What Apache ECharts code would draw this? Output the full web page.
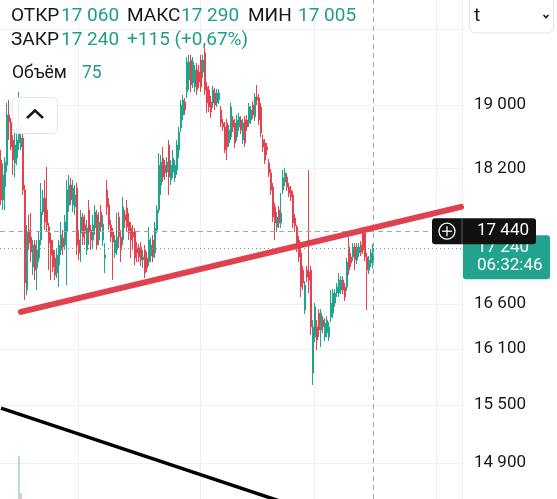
<!DOCTYPE html>
<html>
<head>
<meta charset="utf-8">
<script src="https://cdn.jsdelivr.net/npm/echarts@6/dist/echarts.min.js"></script>
<style>
  html, body { margin: 0; padding: 0; background: #fff; }
  #chart { width: 557px; height: 499px; }
</style>
</head>
<body>
<div id="chart"></div>
<script>
// candles (one every ~2px)
const opens = [
  18303, 17813, 17972, 18241, 18872, 18782, 18554, 18266, 18328, 18516,
  18466, 18579, 17935, 16757, 17454, 17371, 17021, 17277, 17009, 17125,
  17336, 17669, 17837, 17693, 17490, 17336, 17219, 17125, 16951, 17044,
  17219, 17360, 17277, 17430, 17753, 17996, 17753, 17729, 17960, 17336,
  17418, 17609, 17513, 17219, 17693, 17454, 17336, 17478, 17633, 17336,
  17669, 17336, 17125, 17935, 17753, 17513, 17430, 17184, 17219, 17609,
  17371, 17336, 17633, 17717, 17549, 17478, 17430, 17430, 17242, 17242,
  17254, 17102, 17219, 17125, 17079, 17149, 17336, 17184, 17454, 17693,
  17996, 18328, 18241, 18155, 18491, 18057, 18155, 18082, 18180, 18428,
  18706, 18872, 19039, 19169, 19325, 19589, 19286, 19234, 19457, 19430,
  19589, 19430, 19683, 19234, 19195, 19039, 19026, 19156, 19026, 19065,
  18936, 18770, 18719, 18770, 18516, 18592, 18808, 18770, 18592, 18719,
  18808, 18554, 18808, 18808, 18770, 18808, 19000, 18846, 19104, 19091,
  18975, 18554, 18516, 18466, 18266, 18143, 17972, 17729, 17490, 17693,
  17537, 17935, 18033, 18094, 17972, 17935, 17874, 17597, 17490, 17336,
  17184, 16986, 16531, 16986, 16963, 16986, 15839, 16231, 16342, 16497,
  16308, 16419, 16231, 16275, 16231, 16453, 16497, 16610, 16723, 16723,
  16757, 16871, 16791, 16791, 17254, 17137, 17137, 17254, 17102, 17184,
  17277, 17454, 17418, 17137, 16986, 17067, 17060
];
const closes = [
  17813, 18118, 18278, 18872, 18782, 18466, 18303, 18491, 18554, 18642,
  18579, 17935, 16837, 17430, 17300, 17196, 17277, 16986, 17219, 17336,
  17669, 17837, 17549, 17513, 17300, 17160, 17021, 16928, 17160, 17277,
  17395, 17254, 17549, 17935, 17996, 17813, 17960, 17874, 17277, 17184,
  17609, 17371, 17418, 17478, 17430, 17336, 17513, 17669, 17277, 17549,
  17490, 17525, 17160, 17729, 17513, 17371, 17312, 17336, 17371, 17371,
  17219, 17729, 17573, 17490, 17418, 17336, 17371, 17125, 17184, 17137,
  17102, 17137, 16951, 17009, 17336, 17277, 17137, 17478, 17693, 18241,
  18278, 18094, 18143, 18278, 18094, 18241, 18328, 18241, 18491, 18655,
  19000, 19065, 18936, 19562, 19562, 19260, 19562, 19457, 19195, 19299,
  19234, 19589, 19195, 19026, 18975, 18910, 19195, 19000, 19156, 19156,
  18770, 18719, 18428, 18466, 18680, 18975, 18719, 18516, 18808, 18846,
  18680, 18770, 18516, 18719, 18975, 18936, 18872, 19104, 19065, 18808,
  18642, 18466, 18303, 18428, 18143, 17935, 17609, 17537, 17609, 17537,
  17657, 18082, 18143, 17972, 17899, 17850, 17537, 17502, 17254, 17137,
  16791, 16837, 16814, 16905, 16871, 16342, 16342, 16565, 16198, 16308,
  16497, 16342, 16386, 16419, 16342, 16610, 16723, 16723, 16791, 16871,
  16871, 16757, 16678, 17079, 16986, 17067, 17254, 17102, 17254, 17254,
  17196, 17219, 17137, 16986, 17102, 17184, 17240
];
const lows = [
  17753, 17693, 17693, 18155, 18554, 18428, 18118, 18094, 18241, 18428,
  18428, 17874, 16644, 16700, 17219, 17079, 16928, 16871, 16757, 17079,
  17277, 17633, 17454, 17430, 16986, 16871, 16963, 16871, 16894, 16791,
  17160, 17160, 17219, 16814, 17669, 17753, 17669, 17633, 17160, 17102,
  17079, 17277, 17277, 17160, 17277, 17219, 17242, 17395, 17219, 17277,
  17430, 17265, 16951, 17633, 17454, 17312, 16871, 17125, 17160, 17242,
  17079, 17277, 17478, 17430, 17336, 17125, 17219, 17044, 17079, 17079,
  17032, 17009, 16894, 16963, 17032, 17079, 17079, 17125, 17418, 17657,
  17874, 18033, 18057, 18094, 17874, 17996, 18082, 18033, 18118, 18328,
  18655, 18808, 18872, 19091, 19195, 19169, 19221, 19169, 19130, 19221,
  19169, 19352, 19130, 18898, 18910, 18834, 18962, 18936, 18975, 19013,
  18719, 18668, 18391, 18303, 18466, 18554, 18655, 18453, 18541, 18668,
  18630, 18503, 18466, 18668, 18719, 18757, 18821, 18795, 19000, 18744,
  18592, 18403, 18254, 18366, 18094, 17874, 17549, 17336, 17430, 17478,
  17478, 17887, 17984, 17923, 17850, 17801, 17478, 17430, 17196, 17079,
  16678, 16757, 16486, 16848, 16723, 16253, 15711, 16176, 16088, 16231,
  16121, 16275, 16187, 16231, 16187, 16397, 16441, 16565, 16678, 16678,
  16711, 16711, 16633, 16746, 16928, 17021, 17090, 16986, 17056, 17137,
  17149, 17172, 17090, 16531, 16940, 17021, 17005
];
const highs = [
  18428, 18266, 18341, 19026, 19065, 18834, 18617, 18680, 18706, 19169,
  18744, 18642, 17996, 17513, 17633, 17657, 17336, 17336, 17336, 17430,
  18020, 17935, 18057, 18217, 17537, 17418, 17336, 17219, 17242, 17336,
  17549, 17454, 17633, 18057, 18118, 18082, 18057, 17996, 18020, 17454,
  17693, 17657, 17633, 17573, 17813, 17513, 17633, 17753, 17693, 17669,
  17753, 17633, 17300, 18057, 17837, 17573, 17478, 17395, 17657, 17669,
  17454, 17850, 17693, 17813, 17657, 17549, 17513, 17478, 17312, 17289,
  17312, 17219, 17277, 17196, 17490, 17360, 17395, 17549, 17753, 18391,
  18366, 18466, 18303, 18341, 18554, 18303, 18428, 18303, 18554, 18718,
  19065, 19130, 19091, 19629, 19656, 19656, 19629, 19522, 19549, 19522,
  19656, 19656, 19763, 19299, 19247, 19117, 19247, 19221, 19208, 19208,
  18988, 18821, 18782, 18821, 18744, 19026, 18859, 18821, 18872, 18898,
  18859, 18821, 18859, 18872, 19026, 18988, 19052, 19156, 19260, 19143,
  19026, 18617, 18567, 18516, 18316, 18192, 18020, 17777, 17669, 17741,
  17899, 18180, 18204, 18143, 18020, 17984, 17923, 17645, 17513, 17383,
  17231, 17032, 16860, 17032, 18180, 17032, 16419, 16610, 16419, 16542,
  16542, 16464, 16441, 16464, 16397, 16757, 16768, 16768, 16837, 16951,
  16917, 16917, 16837, 17125, 17371, 17184, 17300, 17300, 17300, 17300,
  17324, 17490, 17466, 17184, 17149, 17231, 17290
];

// volume bars that peek in at the bottom left: [slot, volume]
const volumeUp = [[9, 43]];
const volumeDown = [[10, 6]];

const slotCount = 231;              // incl. empty space right of last candle
const categories = Array.from({ length: slotCount }, (_, i) => String(i));
const labelTicks = [14900, 15500, 16100, 16600, 18200, 19000];
const gridTicks = [14900, 15500, 16100, 16600, 18200, 19000, 20000];
const timeGridSlots = [39, 100, 157, 218];
const redTrend = [[10, 16510], [230, 17730]];
const blackTrend = [[0, 15467], [150, 14451]];
const crossPrice = 17440;
const lastPrice = 17240;
const lastSlot = 186;

const UP = '#22a38e';
const DOWN = '#e2434f';
const TEXT = '#131722';
const VAL = '#1f9e8a';
const FONT = 'Roboto, "Noto Sans", sans-serif';

function fmtPrice(v) {
  return String(Math.round(v)).replace(/\B(?=(\d{3})+(?!\d))/g, ' ');
}

const candles = opens.map((o, i) => [o, closes[i], lows[i], highs[i]]);

const chart = echarts.init(document.getElementById('chart'), null, { renderer: 'canvas' });

chart.setOption({
  animation: false,
  backgroundColor: '#ffffff',
  grid: { left: 0, right: 95, top: 0, bottom: 0 },
  xAxis: {
    type: 'category',
    data: categories,
    boundaryGap: true,
    axisLine: { show: false },
    axisTick: { show: false },
    axisLabel: { show: false },
    splitLine: {
      show: true,
      interval: (idx) => timeGridSlots.includes(idx),
      lineStyle: { color: '#eff1f5', width: 1 }
    }
  },
  yAxis: [
    {
      type: 'log',
      logBase: 10,
      position: 'right',
      min: 14541,
      max: 20404,
      axisLine: { show: false },
      axisTick: { show: false, customValues: gridTicks },
      axisLabel: {
        customValues: labelTicks,
        color: TEXT,
        fontSize: 17,
        fontFamily: FONT,
        margin: 12,
        formatter: fmtPrice
      },
      splitLine: { show: true, lineStyle: { color: '#eff1f5', width: 1 } }
    },
    {
      type: 'value',
      min: 0,
      max: 500,
      show: false
    }
  ],
  series: [
    {
      type: 'bar',
      yAxisIndex: 1,
      data: volumeUp,
      barWidth: 1.5,
      itemStyle: { color: 'rgba(34,163,142,0.45)' }
    },
    {
      type: 'bar',
      yAxisIndex: 1,
      data: volumeDown,
      barWidth: 1.5,
      barGap: '-100%',
      itemStyle: { color: 'rgba(226,67,79,0.45)' }
    },
    {
      type: 'candlestick',
      data: candles,
      barWidth: 1.8,
      itemStyle: {
        color: UP,
        color0: DOWN,
        borderColor: UP,
        borderColor0: DOWN,
        borderWidth: 1
      },
      markLine: {
        silent: true,
        symbol: ['none', 'none'],
        label: { show: false },
        animation: false,
        data: [
          { yAxis: crossPrice, lineStyle: { color: '#a3a6af', type: [5, 4], width: 1 } },
          { yAxis: lastPrice, lineStyle: { color: '#6f9d98', type: [1, 3], width: 1 } },
          { xAxis: lastSlot, lineStyle: { color: '#a3a6af', type: [5, 4], width: 1 } },
          [
            { coord: redTrend[0], lineStyle: { color: '#e0414f', width: 6, type: 'solid', cap: 'round' } },
            { coord: redTrend[1] }
          ]
        ]
      }
    },
    {
      type: 'line',
      data: blackTrend,
      symbol: 'none',
      clip: true,
      lineStyle: { color: '#000000', width: 3.5 },
      z: 4
    }
  ]
});

// overlays: legend header, collapse button, interval picker, price tags
const yCross = chart.convertToPixel({ yAxisIndex: 0 }, crossPrice);
const yLast = chart.convertToPixel({ yAxisIndex: 0 }, lastPrice);

function txt(x, y, s, color, size) {
  return {
    type: 'text', x, y, z: 100,
    style: { text: s, fill: color, font: `${size || 19}px ${FONT}`, textVerticalAlign: 'middle' }
  };
}

chart.setOption({
  graphic: [
    txt(11, 16, 'ОТКР', TEXT), txt(61, 16, '17 060', VAL),
    txt(127, 16, 'МАКС', TEXT), txt(181, 16, '17 290', VAL),
    txt(248, 16, 'МИН', TEXT), txt(298, 16, '17 005', VAL),
    txt(11, 40, 'ЗАКР', TEXT), txt(61, 40, '17 240', VAL),
    txt(127, 40, '+115 (+0,67%)', VAL),
    txt(12, 74, 'Объём', TEXT, 17.5), txt(82, 74, '75', VAL, 17.5),
    {
      type: 'rect', z: 100,
      shape: { x: 12.5, y: 97.5, width: 45, height: 36, r: 5 },
      style: { fill: 'rgba(255,255,255,0.85)', stroke: '#e3e5ea', lineWidth: 1 }
    },
    {
      type: 'polyline', z: 101,
      shape: { points: [[27, 118], [35, 110.5], [43, 118]] },
      style: { stroke: '#131722', lineWidth: 2.5, fill: null }
    },
    {
      type: 'rect', z: 100,
      shape: { x: 469.5, y: -8, width: 84, height: 41, r: 6 },
      style: { fill: '#ffffff', stroke: '#e3e5ea', lineWidth: 1 }
    },
    txt(474, 16, 't', TEXT),
    {
      type: 'polyline', z: 101,
      shape: { points: [[543.5, 15], [546, 17.5], [548.5, 15]] },
      style: { stroke: '#131722', lineWidth: 1.6, fill: null }
    },
    // last price tag
    {
      type: 'rect', z: 100,
      shape: { x: 463, y: yLast - 13, width: 87, height: 44, r: 3 },
      style: { fill: UP }
    },
    txt(477, yLast, fmtPrice(lastPrice), '#ffffff', 17),
    txt(477, yLast + 18, '06:32:46', '#ffffff', 17),
    // crosshair price tag
    {
      type: 'rect', z: 102,
      shape: { x: 432, y: yCross - 13, width: 104, height: 26, r: 3 },
      style: { fill: '#111111' }
    },
    {
      type: 'line', z: 103,
      shape: { x1: 462, y1: yCross - 13, x2: 462, y2: yCross + 13 },
      style: { stroke: '#5a5d66', lineWidth: 1 }
    },
    {
      type: 'circle', z: 103,
      shape: { cx: 447, cy: yCross, r: 8 },
      style: { fill: null, stroke: '#ffffff', lineWidth: 1.3 }
    },
    {
      type: 'polyline', z: 103,
      shape: { points: [[447, yCross - 5], [447, yCross + 5]] },
      style: { stroke: '#ffffff', lineWidth: 1.3, fill: null }
    },
    {
      type: 'polyline', z: 103,
      shape: { points: [[442, yCross], [452, yCross]] },
      style: { stroke: '#ffffff', lineWidth: 1.3, fill: null }
    },
    {
      type: 'text', x: 477, y: yCross, z: 104,
      style: { text: fmtPrice(crossPrice), fill: '#ffffff', font: `17px ${FONT}`, textVerticalAlign: 'middle' }
    }
  ]
});
</script>
</body>
</html>
